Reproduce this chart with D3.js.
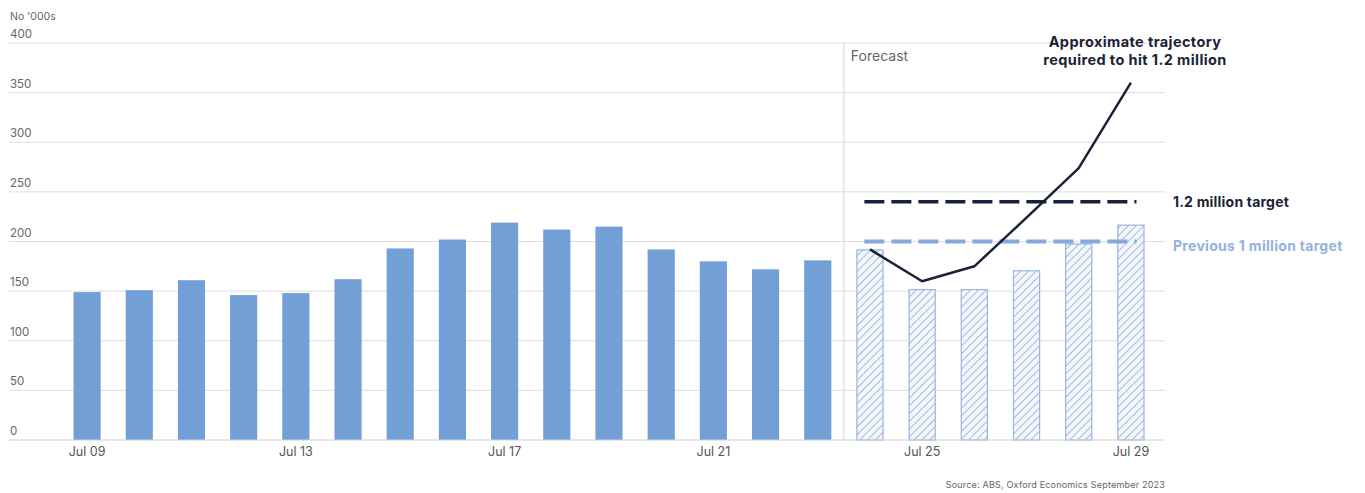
<!DOCTYPE html>
<html>
<head>
<meta charset="utf-8">
<script src="https://cdn.jsdelivr.net/npm/d3@7"></script>
<style>
  html, body { margin: 0; padding: 0; background: #fff; }
  svg { display: block; font-family: "Inter", "Noto Sans", sans-serif; }
</style>
</head>
<body>
<svg id="chart" width="1365" height="493"></svg>
<script>
// Dwelling completions, financial years (No '000s)
const years = ["09","10","11","12","13","14","15","16","17","18","19","20","21","22","23","24","25","26","27","28","29"];
const completions = [149,151,161,146,148,162,193,202,219,212,215,192,180,172,181,192,152,152,171,198,217];
const forecastStart = "24";
// Trajectory needed to reach 1.2 million homes
const trajectoryYears = ["24","25","26","27","28","29"];
const trajectoryValues = [192,160,175,224,274,360];
const targetNew = 240;
const targetOld = 200;
const yTicks = [0,50,100,150,200,250,300,350,400];
const xTickYears = ["09","13","17","21","25","29"];

const svg = d3.select("#chart");

const x = d3.scaleBand().domain(years).range([61, 1157]).paddingInner(0.48).paddingOuter(0.24);
const y = d3.scaleLinear().domain([0, 400]).range([440, 43]);
const plotLeft = 9, plotRight = 1165;

// hatch pattern for forecast bars
const defs = svg.append("defs");
const pat = defs.append("pattern").attr("id", "hatch").attr("patternUnits", "userSpaceOnUse")
  .attr("width", 5.5).attr("height", 5.5).attr("patternTransform", "rotate(45)");
pat.append("rect").attr("width", 5.5).attr("height", 5.5).attr("fill", "#f3f6fb");
pat.append("line").attr("x1", 0).attr("y1", 0).attr("x2", 0).attr("y2", 5.5)
  .attr("stroke", "#87a7d6").attr("stroke-width", 1.5);

// gridlines
svg.append("g").selectAll("line").data(yTicks.filter(d => d > 0)).join("line")
  .attr("x1", plotLeft).attr("x2", plotRight)
  .attr("y1", d => y(d)).attr("y2", d => y(d))
  .attr("stroke", "#dedede").attr("stroke-width", 1);

// y tick labels above gridlines
svg.append("g").selectAll("text").data(yTicks).join("text")
  .attr("x", 10).attr("y", d => y(d) - 5)
  .attr("font-size", 11.5).attr("fill", "#666").text(d => d);

svg.append("text").attr("x", 10).attr("y", 20).attr("font-size", 10.5).attr("fill", "#666").text("No '000s");

// forecast divider
const divX = x(forecastStart) - (x.step() - x.bandwidth()) / 2;
svg.append("line").attr("x1", divX).attr("x2", divX).attr("y1", y(400)).attr("y2", y(0))
  .attr("stroke", "#d4d4d4").attr("stroke-width", 1);
svg.append("text").attr("x", divX + 7).attr("y", 61).attr("font-size", 14).attr("fill", "#666").text("Forecast");

// bars
const fIdx = years.indexOf(forecastStart);
svg.append("g").selectAll("rect").data(years).join("rect")
  .attr("x", (d, i) => x(d) + (i >= fIdx ? 0.5 : 0))
  .attr("y", (d, i) => y(completions[i]) + (i >= fIdx ? 0.5 : 0))
  .attr("width", (d, i) => x.bandwidth() - (i >= fIdx ? 1 : 0))
  .attr("height", (d, i) => y(0) - y(completions[i]) - (i >= fIdx ? 0.5 : 0))
  .attr("fill", (d, i) => i >= fIdx ? "url(#hatch)" : "#719fd6")
  .attr("stroke", (d, i) => i >= fIdx ? "#98b5de" : "none")
  .attr("stroke-width", 1.2);

// baseline
svg.append("line").attr("x1", plotLeft).attr("x2", plotRight).attr("y1", y(0)).attr("y2", y(0))
  .attr("stroke", "#cfcfcf").attr("stroke-width", 1.2);

// x axis labels
const xAxis = d3.axisBottom(x).tickValues(xTickYears).tickFormat(d => "Jul " + d).tickSize(0).tickPadding(7);
const gx = svg.append("g").attr("transform", `translate(0,${y(0)})`).call(xAxis);
gx.select(".domain").remove();
gx.selectAll("text").attr("font-size", 12.5).attr("fill", "#555").attr("font-family", "Inter, 'Noto Sans', sans-serif");

// target lines
const tx0 = x(forecastStart) + 8, tx1 = x("29") + x.bandwidth() - 8;
svg.append("line").attr("x1", tx0).attr("x2", tx1).attr("y1", y(targetOld)).attr("y2", y(targetOld))
  .attr("stroke", "#86a9da").attr("stroke-width", 4).attr("stroke-dasharray", "20,7");
svg.append("line").attr("x1", tx0).attr("x2", tx1).attr("y1", y(targetNew)).attr("y2", y(targetNew))
  .attr("stroke", "#17213d").attr("stroke-width", 3.5).attr("stroke-dasharray", "20,7");

// trajectory line
const line = d3.line().x(d => x(d[0]) + x.bandwidth() / 2).y(d => y(d[1]));
svg.append("path").datum(trajectoryYears.map((d, i) => [d, trajectoryValues[i]]))
  .attr("d", line).attr("fill", "none").attr("stroke", "#1a2238").attr("stroke-width", 2.5)
  .attr("stroke-linejoin", "round");

// labels
svg.append("text").attr("x", 1173).attr("y", y(targetNew) + 5).attr("font-size", 14).attr("font-weight", 700)
  .attr("letter-spacing", 0.2).attr("fill", "#1b2236").text("1.2 million target");
svg.append("text").attr("x", 1173).attr("y", y(targetOld) + 9).attr("font-size", 14).attr("font-weight", 700)
  .attr("letter-spacing", 0.3).attr("fill", "#94b2dc").text("Previous 1 million target");

const ann = svg.append("text").attr("x", 1135).attr("text-anchor", "middle").attr("font-size", 14.5)
  .attr("font-weight", 700).attr("letter-spacing", 0.4).attr("fill", "#1b2236");
ann.append("tspan").attr("x", 1135).attr("y", 47).text("Approximate trajectory");
ann.append("tspan").attr("x", 1135).attr("y", 65).text("required to hit 1.2 million");

svg.append("text").attr("x", 1165).attr("y", 488).attr("text-anchor", "end").attr("font-size", 9)
  .attr("letter-spacing", 0.2).attr("fill", "#666").text("Source: ABS, Oxford Economics September 2023");
</script>
</body>
</html>
